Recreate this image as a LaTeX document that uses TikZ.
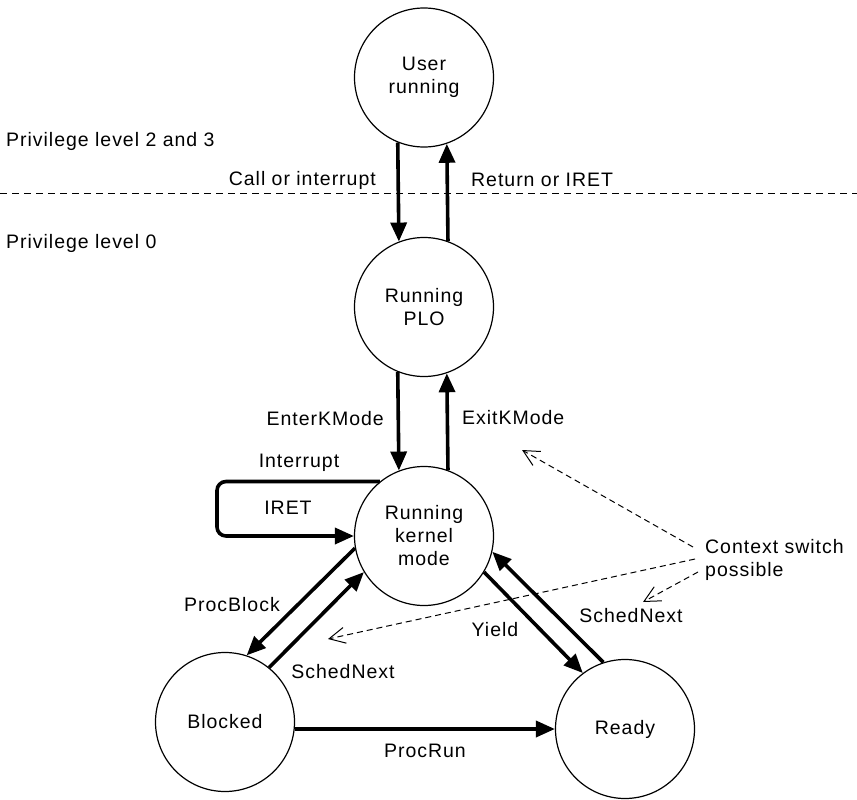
\documentclass[tikz,border=0pt]{standalone}
\usepackage{fontspec}
\setmainfont{Liberation Sans}[LetterSpace=5]
\usetikzlibrary{arrows.meta,calc}
\newcommand\diaglbl{\fontsize{19.5}{23}\selectfont}
\begin{document}
\begin{tikzpicture}[x=1pt,y=-1pt,
  state/.style={circle,draw,line width=1.2pt,minimum size=139pt,inner sep=0pt,align=center,font=\diaglbl},
  lbl/.style={inner sep=0pt,font=\diaglbl},
  arr/.style={line width=3.6pt,-{Triangle[length=19pt,width=16pt]}},
  dasharr/.style={line width=1pt,dash pattern=on 6pt off 4pt,-{Straight Barb[length=16pt,width=16pt,line width=1pt]}},
  divider/.style={line width=1pt,dash pattern=on 7pt off 5pt}]
\useasboundingbox (0,0) rectangle (857,800);

% states
\node[state] (user) at (424,77.5) {User\\running};
\node[state] (plo) at (424,307) {Running\\PLO};
\node[state] (kern) at (424,536) {Running\\kernel\\mode};
\node[state] (blk) at (225,722) {Blocked};
\node[state] (rdy) at (625,729) {Ready};

% privilege divider
\coordinate (dl) at (0,193);
\coordinate (dr) at (857,193);
\draw[divider] (dl) -- (dr);
\node[lbl,anchor=west] (pl23) at (6,141) {Privilege level 2 and 3};
\node[lbl,anchor=west] (pl0) at (6,243) {Privilege level 0};

% transitions
\draw[arr] (user.248.2) -- (plo.111.8);
\draw[arr] (plo.70.8) -- (user.289.2);
\node[lbl,anchor=east] (call) at (376,180) {Call or interrupt};
\node[lbl,anchor=west] (ret) at (471,180) {Return or IRET};

\draw[arr] (plo.248.2) -- (kern.111.8);
\draw[arr] (kern.70.8) -- (plo.289.2);
\node[lbl,anchor=east] (enter) at (384,419) {EnterKMode};
\node[lbl,anchor=west] (exit) at (462,418) {ExitKMode};

\draw[arr,rounded corners=9pt] (kern.129) -| (217,510) |- (kern.west);
\node[lbl] (intr) at (299,463) {Interrupt};
\node[lbl] (iret) at (288,508) {IRET};

\draw[arr] (kern.190) -- (blk.72);
\draw[arr] (blk.51.3) -- (kern.211);
\node[lbl] (pblock) at (232,605) {ProcBlock};
\node[lbl] (snl) at (343,672) {SchedNext};

\draw[arr] (kern.329) -- (rdy.127.5);
\draw[arr] (rdy.108.2) -- (kern.347);
\node[lbl] (yield) at (495,630) {Yield};
\node[lbl] (snr) at (631,616) {SchedNext};

\draw[arr] (blk.east |- rdy.west) -- (rdy.west);
\node[lbl] (prun) at (425,751) {ProcRun};

% context switch
\node[lbl,anchor=west,align=left] (ctx) at (705,560) {Context switch\\possible};
\coordinate (c1) at (693,547);
\coordinate (c2) at (695,559);
\coordinate (c3) at (698,572);
\coordinate (t1) at (522,450);
\coordinate (t2) at (328,639);
\coordinate (t3) at (643,602);
\draw[dasharr] (c1) -- (t1);
\draw[dasharr] (c2) -- (t2);
\draw[dasharr] (c3) -- (t3);
\end{tikzpicture}
\end{document}
